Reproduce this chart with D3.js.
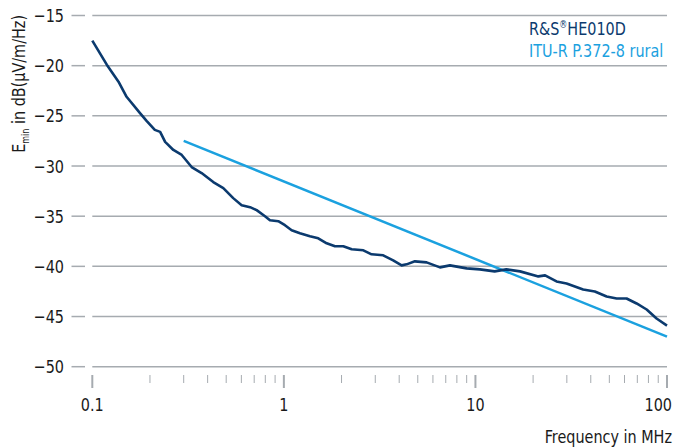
<!DOCTYPE html>
<html>
<head>
<meta charset="utf-8">
<script src="https://cdn.jsdelivr.net/npm/d3@7"></script>
<style>
  body { margin: 0; background: #fff; }
  svg text { font-family: "DejaVu Sans Condensed", "Liberation Sans Narrow", sans-serif; fill: #1a1a1a; font-size: 18px; }
</style>
</head>
<body>
<div id="chart"></div>
<script>
// R&S HE010D measured E_min (frequency in MHz, dB(µV/m/Hz))
const heFreq = [0.1, 0.119, 0.137, 0.151, 0.177, 0.192, 0.212, 0.226, 0.240, 0.265,
  0.293, 0.330, 0.372, 0.428, 0.483, 0.544, 0.602, 0.666, 0.721, 0.797,
  0.846, 0.935, 1.013, 1.098, 1.213, 1.368, 1.512, 1.673, 1.848, 2.042,
  2.26, 2.60, 2.87, 3.30, 3.72, 4.12, 4.37, 4.83, 5.56, 6.53,
  7.36, 9.0, 10.55, 12.6, 14.5, 17.1, 21.3, 23.1, 26.5, 29.9,
  36.5, 42.0, 48.4, 54.6, 61.5, 69.4, 78.3, 88.2, 100];
const heValue = [-17.5, -19.9, -21.6, -23.1, -24.7, -25.5, -26.4, -26.6, -27.6, -28.4,
  -28.9, -30.1, -30.7, -31.6, -32.2, -33.2, -33.9, -34.1, -34.4, -35.0,
  -35.4, -35.5, -35.9, -36.4, -36.7, -37.0, -37.2, -37.7, -38.0, -38.0,
  -38.3, -38.4, -38.8, -38.9, -39.4, -39.9, -39.8, -39.5, -39.6, -40.1,
  -39.9, -40.2, -40.3, -40.5, -40.3, -40.5, -41.0, -40.9, -41.5, -41.7,
  -42.3, -42.5, -43.0, -43.2, -43.2, -43.7, -44.3, -45.2, -45.9];

// ITU-R P.372-8 rural noise
const ituFreq = [0.3, 100];
const ituValue = [-27.5, -47.0];

const yTicks = [-15, -20, -25, -30, -35, -40, -45, -50];
const xTicks = [0.1, 1, 10, 100];
const xTickLabels = ["0.1", "1", "10", "100"];

const width = 674, height = 447;
const navy = "#0b3a6e", cyan = "#1ba1df", grid = "#a6abb0";
const squeeze = 0.89; // condensed look of the original typeface

const svg = d3.select("#chart").append("svg")
  .attr("width", width)
  .attr("height", height);

function label(g, tx, ty, extra) {
  return g.append("text")
    .attr("transform", `translate(${tx},${ty}) ${extra || ""} scale(${squeeze},1)`);
}

const x = d3.scaleLog().domain([0.1, 100]).range([92.3, 667]);
const y = d3.scaleLinear().domain([-50, -15]).range([366.7, 15.5]);

// horizontal grid + small left dash
const gy = svg.append("g");
gy.selectAll("line.grid").data(yTicks).enter().append("line")
  .attr("x1", x(0.1)).attr("x2", x(100))
  .attr("y1", d => y(d)).attr("y2", d => y(d))
  .attr("stroke", grid).attr("stroke-width", 1.5);
gy.selectAll("line.dash").data(yTicks).enter().append("line")
  .attr("x1", 71.5).attr("x2", 85)
  .attr("y1", d => y(d)).attr("y2", d => y(d))
  .attr("stroke", grid).attr("stroke-width", 1.5);
yTicks.forEach(d => {
  label(gy, 64, y(d) + 6.5).attr("text-anchor", "end").text("\u2212" + Math.abs(d));
});

// x ticks: minor at 2..9, major at decades
const minor = [];
[0.1, 1, 10].forEach(dec => { for (let k = 2; k <= 9; k++) minor.push(dec * k); });
const gx = svg.append("g");
gx.selectAll("line.minor").data(minor).enter().append("line")
  .attr("x1", d => x(d)).attr("x2", d => x(d))
  .attr("y1", 375).attr("y2", 383)
  .attr("stroke", grid).attr("stroke-width", 1);
gx.selectAll("line.major").data(xTicks).enter().append("line")
  .attr("x1", d => x(d)).attr("x2", d => x(d))
  .attr("y1", 375).attr("y2", 388)
  .attr("stroke", grid).attr("stroke-width", 2);
xTicks.forEach((d, i) => {
  const last = i === xTicks.length - 1;
  label(gx, last ? width - 2 : x(d), 411)
    .attr("text-anchor", last ? "end" : "middle")
    .text(xTickLabels[i]);
});

label(svg, 672, 443).attr("text-anchor", "end").text("Frequency in MHz");

// y axis title
const yt = label(svg, 25, 15, "rotate(-90)").attr("text-anchor", "end");
yt.append("tspan").text("E");
yt.append("tspan").style("font-size", "10px").attr("dy", 4).text("min");
yt.append("tspan").attr("dy", -4).text(" in dB(\u00b5V/m/Hz)");

// series
const line = d3.line().x(d => x(d[0])).y(d => y(d[1]));

svg.append("path")
  .datum(ituFreq.map((f, i) => [f, ituValue[i]]))
  .attr("d", line)
  .attr("fill", "none")
  .attr("stroke", cyan)
  .attr("stroke-width", 2.5);

svg.append("path")
  .datum(heFreq.map((f, i) => [f, heValue[i]]))
  .attr("d", line)
  .attr("fill", "none")
  .attr("stroke", navy)
  .attr("stroke-width", 2.6)
  .attr("stroke-linejoin", "round");

// legend
const leg = svg.append("g");
label(leg, 529, 35).style("fill", navy)
  .html("R&amp;S<tspan style='font-size:10px' dy='-7'>\u00ae</tspan><tspan dy='7'>HE010D</tspan>");
label(leg, 529, 57).style("fill", cyan).text("ITU-R P.372-8 rural");
</script>
</body>
</html>
